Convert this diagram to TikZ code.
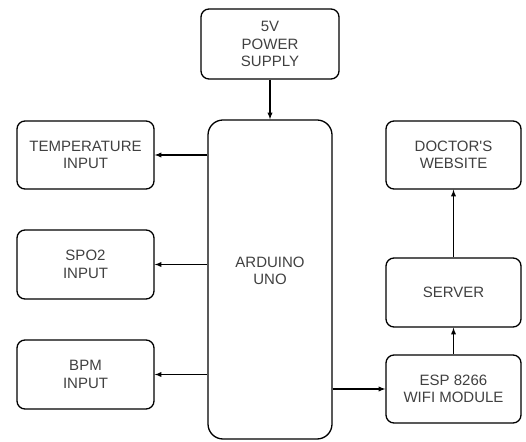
\documentclass[tikz,border=0pt]{standalone}
\usepackage{fontspec}
\setmainfont{Liberation Sans}
\usepackage{tikz}
\usetikzlibrary{shapes,arrows,positioning,calc}
\tikzstyle{block} = [rectangle, rounded corners=8pt, minimum width=137pt, minimum height=69pt, text centered, align=center, draw=black, line width=1.3pt, text=black!75, font=\fontsize{15}{17.5}\selectfont, inner sep=0pt]
\tikzstyle{board} = [block, rounded corners=15pt, minimum width=124pt, minimum height=319pt]
\tikzstyle{arrow} = [line width=1.3pt,->,>=latex]

\begin{document}
\begin{tikzpicture}[x=1pt, y=1pt]
\useasboundingbox (0,0) rectangle (526,441);

% Supply and controller
\node (power) [block, minimum width=138pt, minimum height=70pt] at (270,397) {5V\\POWER\\SUPPLY};
\node (arduino) [board] at (270,161.5) {ARDUINO\\UNO\\[0pt]};

% Sensor inputs
\node (temp) [block, minimum height=68pt] at (85.5,286) {TEMPERATURE\\INPUT};
\node (spo2) [block] at (85.5,176.5) {SPO2\\INPUT};
\node (bpm) [block] at (85.5,66.5) {BPM\\INPUT};

% Wifi side
\node (doctor) [block, minimum width=135pt, minimum height=68pt] at (453.5,286) {DOCTOR\textquotesingle S\\WEBSITE};
\node (server) [block, minimum width=135pt] at (453.5,148.5) {SERVER};
\node (esp) [block, minimum width=135pt, minimum height=68pt] at (453.5,52) {ESP 8266\\WIFI MODULE};

% Arrows
\draw [arrow] (power) -- (arduino);
\draw [arrow] (arduino.west |- temp.east) -- (temp.east);
\draw [arrow] (arduino.west |- spo2.east) -- (spo2.east);
\draw [arrow] (arduino.west |- bpm.east) -- (bpm.east);
\draw [arrow] (arduino.east |- esp.west) -- (esp.west);
\draw [arrow] (esp) -- (server);
\draw [arrow] (server) -- (doctor);

\end{tikzpicture}
\end{document}
